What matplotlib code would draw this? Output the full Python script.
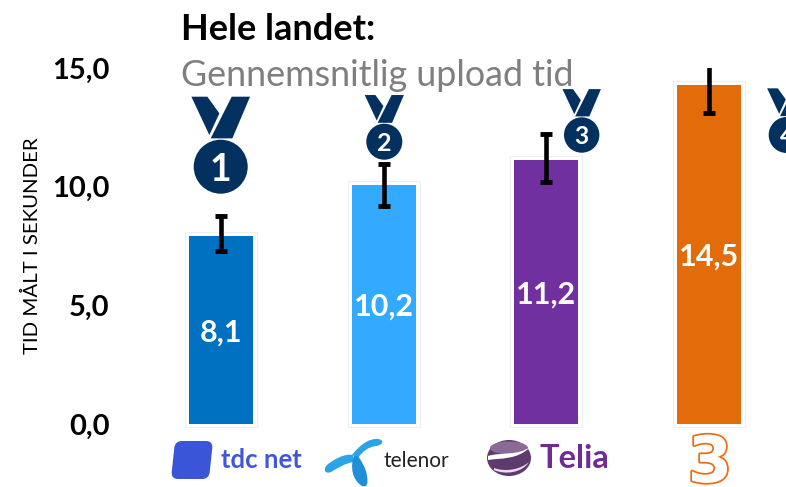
import matplotlib
matplotlib.use("Agg")
import matplotlib.pyplot as plt
from matplotlib.patches import Circle, Ellipse, FancyBboxPatch, PathPatch, Polygon
from matplotlib.path import Path
from matplotlib.transforms import Affine2D
import matplotlib.patheffects as pe

plt.rcParams['font.family'] = ['Lato', 'DejaVu Sans']

# values
operators = ['tdc net', 'telenor', 'Telia', '3']
bar_heights = [7.92, 10.07, 11.12, 14.3]
value_labels = ['8,1', '10,2', '11,2', '14,5']
err_low = [7.3, 9.2, 10.2, 13.1]
err_high = [8.75, 10.95, 12.2, 15.2]
bar_colors = ['#0070c0', '#33a9ff', '#7030a0', '#e36c0a']
y_ticks = [0, 5, 10, 15]
y_tick_labels = ['0,0', '5,0', '10,0', '15,0']

W, H = 786, 487
X0 = 221      # pixel centre of first bar
STEP = 162.7  # pixels between bars
AX_LEFT = 150
AX_TOP, AX_BOTTOM = 68, 424
PX_PER_UNIT = (AX_BOTTOM - AX_TOP) / 15

fig = plt.figure(figsize=(W / 100, H / 100), dpi=100)
ax = fig.add_axes([AX_LEFT / W, 1 - AX_BOTTOM / H, (W - AX_LEFT) / W, (AX_BOTTOM - AX_TOP) / H])
ax.set_xlim((AX_LEFT - X0) / STEP, (W - X0) / STEP)
ax.set_ylim(0, 15)
for s in ax.spines.values():
    s.set_visible(False)
ax.set_xticks([])
ax.set_yticks(y_ticks)
ax.set_yticklabels(y_tick_labels, fontsize=21, fontweight='bold', color='black')
ax.tick_params(axis='y', length=0, pad=29)
ax.yaxis.set_label_coords((41 - AX_LEFT) / (W - AX_LEFT), (AX_BOTTOM - 246) / (AX_BOTTOM - AX_TOP))
ax.set_ylabel('TID MÅLT I SEKUNDER', fontsize=14.7, color='black')

xs = list(range(len(operators)))
bar_w = 64 / STEP
pad = 4 / PX_PER_UNIT

# white frame behind every bar
ax.bar(xs, [h + pad + 3 / PX_PER_UNIT for h in bar_heights], bottom=-3 / PX_PER_UNIT,
       width=bar_w + 8 / STEP, color='white', edgecolor='#efefef', linewidth=0.8,
       clip_on=False, zorder=2)
ax.bar(xs, bar_heights, width=bar_w, color=bar_colors, zorder=3, clip_on=False)

for i, h in enumerate(bar_heights):
    ax.text(i, h / 2, value_labels[i], color='white', fontsize=22, fontweight='bold',
            ha='center', va='center_baseline', zorder=5)
    ax.errorbar(i, h, yerr=[[h - err_low[i]], [err_high[i] - h]], fmt='none', ecolor='black',
                elinewidth=3.3, capsize=4.3, capthick=3.5, zorder=4)

fig.text(181 / W, 1 - 30 / H, 'Hele landet:', fontsize=26, fontweight='bold', color='black', va='center')
fig.text(181 / W, 1 - 75 / H, 'Gennemsnitlig upload tid', fontsize=25.8, color='#7f7f7f', va='center')

# overlay in pixel coordinates for medals and logos
deco = fig.add_axes([0, 0, 1, 1], zorder=10)
deco.set_xlim(0, W)
deco.set_ylim(H, 0)
deco.axis('off')
deco.patch.set_alpha(0)


def medal(cx, cy, r, num):
    navy = '#03315f'
    k = r / 81
    left = [(-88, -210), (-40, -210), (-4, -160), (-34, -95)]
    right = [(33, -210), (88, -210), (35, -85), (-30, -85)]
    for pts in (left, right):
        deco.add_patch(Polygon([(cx + a * k, cy + b * k) for a, b in pts], color=navy, lw=0))
    deco.add_patch(Circle((cx, cy), r, color=navy, lw=0))
    deco.text(cx, cy, num, color='white', fontweight='bold', fontsize=r * 1.0,
              ha='center', va='center_baseline', clip_on=True)


medal(220.7, 166.7, 27, '1')
medal(384.3, 141.7, 18, '2')
medal(581.7, 135, 17.7, '3')
medal(786.7, 135, 18, '4')

# tdc net logo
skew = Affine2D().translate(-192, -460).skew_deg(-6, 0).translate(192, 460) + deco.transData
deco.add_patch(FancyBboxPatch((178, 446), 28, 28, boxstyle='round,pad=5,rounding_size=7',
                              color='#3b55d9', lw=0, transform=skew))
deco.text(221, 460, 'tdc net', color='#3f57d8', fontsize=18.5, fontweight='bold', va='center')


def blob(start, curves, color):
    verts = [start]
    codes = [Path.MOVETO]
    for c in curves:
        verts += c
        codes += [Path.CURVE4] * 3
    deco.add_patch(PathPatch(Path(verts + [start], codes + [Path.CLOSEPOLY]), color=color, lw=0))


# telenor logo
blob((352, 455), [[(358, 447), (368, 438), (378, 439)], [(385, 440), (383, 445), (376, 446)],
                  [(368, 447), (362, 452), (358, 458)]], '#2ba4e6')
blob((353, 455), [[(345, 453), (332, 460), (326, 466)], [(323, 471), (326, 474), (331, 472)],
                  [(338, 468), (345, 463), (354, 462)]], '#2ba4e6')
blob((354, 456), [[(350, 466), (352, 480), (362, 486)], [(368, 488), (368, 482), (367, 476)],
                  [(366, 468), (362, 462), (358, 456)]], '#1f8fd6')
deco.text(383, 461, 'telenor', color='#222222', fontsize=15, va='center')

# telia logo
deco.add_patch(Ellipse((509, 458), 44, 36, color='#5e3a6e', lw=0))
deco.add_patch(Ellipse((509, 448), 38, 13, color='#8a6a96', lw=0))
blob((488, 456), [[(500, 452), (518, 456), (530, 447)], [(518, 460), (500, 458), (488, 460)]], 'white')
blob((494, 468), [[(505, 472), (520, 470), (529, 462)], [(522, 473), (505, 475), (494, 470)]], '#e8dfee')
deco.text(540, 459, 'Telia', color='#6f2c91', fontsize=23.5, fontweight='bold', va='center')

# 3 logo
deco.text(710, 482, '3', color='white', fontsize=46, fontweight='bold', family='DejaVu Sans',
          ha='center', va='baseline',
          path_effects=[pe.Stroke(linewidth=2.5, foreground='#f26a10'), pe.Normal()])

fig.savefig('out.png', dpi=100)
